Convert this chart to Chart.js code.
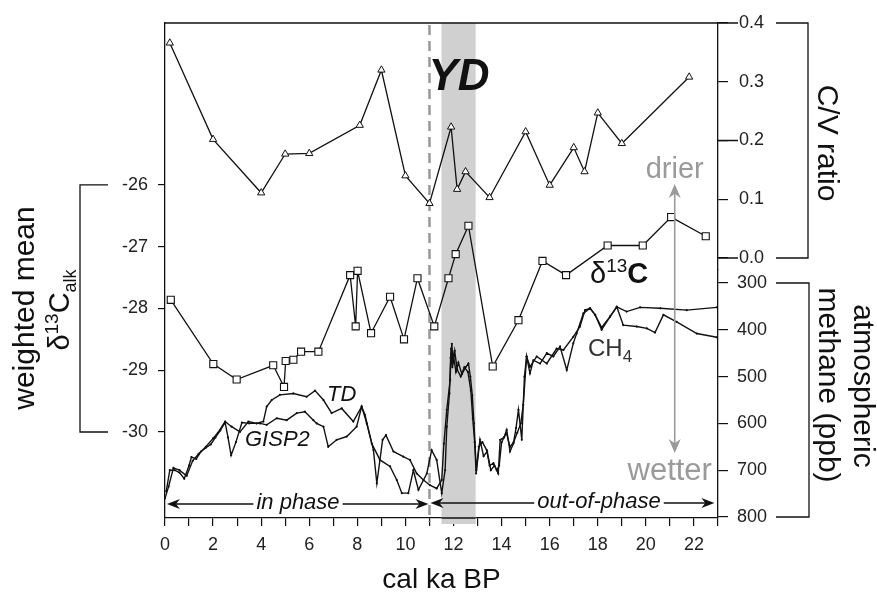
<!DOCTYPE html>
<html>
<head>
<meta charset="utf-8">
<script src="https://cdn.jsdelivr.net/npm/chart.js@4.4.1/dist/chart.umd.min.js"></script>
<style>
	body { margin: 0; background: #fff; }
	canvas { display: block; }
</style>
</head>
<body>
<canvas id="chart" width="877" height="597"></canvas>
<script>
// C/V ratio (triangles)
const cvAge = [0.2, 2.0, 4.0, 5.0, 6.0, 8.1, 9.0, 10.0, 11.0, 11.9, 12.15, 12.5, 13.5, 15.0, 16.0, 17.0, 17.45, 18.0, 19.0, 21.8];
const cvRatio = [0.366, 0.202, 0.111, 0.177, 0.178, 0.226, 0.320, 0.140, 0.093, 0.223, 0.117, 0.147, 0.103, 0.215, 0.124, 0.188, 0.147, 0.247, 0.195, 0.308];

// weighted mean d13C alk (squares)
const d13cAge = [0.24, 2.01, 2.98, 4.5, 4.95, 5.02, 5.34, 5.66, 6.38, 7.7, 7.93, 8.01, 8.57, 9.36, 9.94, 10.5, 11.2, 11.79, 12.09, 12.62, 13.63, 14.7, 15.7, 16.68, 18.41, 19.87, 21.05, 22.49];
const d13c = [-27.86, -28.90, -29.15, -28.92, -29.27, -28.85, -28.83, -28.70, -28.70, -27.46, -28.29, -27.39, -28.40, -27.81, -28.50, -27.51, -28.29, -27.51, -27.12, -26.66, -28.94, -28.19, -27.23, -27.46, -26.98, -26.98, -26.52, -26.83];

// atmospheric methane, GISP2
const gispAge = [0.05, 0.2, 0.4, 0.6, 0.8, 1.0, 1.1, 1.3, 1.5, 1.7, 1.9, 2.1, 2.3, 2.5, 2.62, 2.75, 2.95, 3.2, 3.5, 3.95,
	4.23, 4.65, 5.06, 5.48, 5.82, 6.17, 6.31, 6.59, 6.79, 7.14, 7.56, 7.97, 8.18, 8.39, 8.67, 8.81, 8.94, 9.05, 9.19, 9.5,
	9.91, 10.19, 10.47, 10.75, 11.02, 11.3, 11.51, 11.6, 11.72, 11.86, 11.9, 11.95, 12.0, 12.1, 12.2, 12.35, 12.5, 12.62, 12.7, 12.78,
	12.85, 12.9, 12.95, 13.05, 13.2, 13.38, 13.5, 13.66, 13.8, 13.9, 14.0, 14.2, 14.35, 14.5, 14.65, 14.8, 14.9, 15.04, 15.18, 15.32,
	15.6, 15.88, 16.15, 16.43, 16.71, 16.98, 17.12, 17.4, 17.68, 17.89, 18.16, 18.51, 18.79, 19.06, 19.62, 20.04, 20.38, 20.73, 21.28, 22.12, 22.95];
const gispCh4 = [745, 700, 700, 705, 718, 690, 672, 676, 660, 652, 645, 630, 615, 598, 630, 668, 640, 598, 600, 600,
	603, 589, 593, 578, 575, 593, 600, 607, 650, 635, 628, 607, 564, 600, 657, 728, 678, 635, 625, 660,
	671, 678, 707, 721, 732, 739, 721, 643, 571, 507, 440, 480, 455, 490, 470, 495, 480, 472, 500, 540,
	600, 650, 700, 650, 640, 657, 690, 685, 700, 690, 640, 620, 650, 640, 620, 600, 560, 457, 493, 465,
	472, 450, 457, 436, 486, 429, 408, 365, 354, 368, 400, 372, 351, 390, 393, 397, 406, 368, 383, 408, 416];

// atmospheric methane, TD
const tdAge = [0.0, 0.15, 0.35, 0.6, 0.9, 1.15, 1.4, 1.7, 2.0, 2.2, 2.5, 2.77, 3.12, 3.47, 3.81, 4.09, 4.23, 4.44, 4.78, 5.34,
	5.89, 6.24, 6.59, 6.93, 7.35, 7.83, 8.18, 8.32, 8.6, 8.94, 9.36, 9.64, 9.85, 10.12, 10.33, 10.54, 10.89, 11.09, 11.3, 11.51,
	11.65, 11.72, 11.83, 11.88, 11.93, 11.98, 12.05, 12.15, 12.3, 12.45, 12.6, 12.72, 12.8, 12.88, 12.94, 13.1, 13.25, 13.4, 13.55, 13.7,
	13.86, 13.94, 14.1, 14.21, 14.35, 14.49, 14.6, 14.7, 14.84, 14.95, 15.04, 15.18, 15.46, 15.88, 16.29, 16.57, 16.98, 17.26, 17.47, 17.68,
	17.89, 18.16, 18.51, 18.79, 19.2, 19.76, 20.6, 21.7, 22.95];
const tdCh4 = [760, 735, 695, 700, 712, 680, 665, 650, 632, 620, 596, 607, 618, 596, 600, 596, 564, 550, 539, 536,
	543, 530, 550, 578, 568, 596, 564, 582, 643, 678, 692, 721, 749, 749, 700, 742, 707, 657, 678, 749,
	700, 607, 536, 460, 430, 470, 445, 485, 500, 480, 490, 530, 590, 640, 707, 635, 670, 660, 700, 690,
	707, 635, 630, 614, 660, 643, 610, 571, 635, 500, 457, 479, 457, 472, 440, 443, 415, 393, 358, 354,
	368, 395, 372, 351, 361, 352, 354, 358, 352];

// ticks
const ageTicks = [0, 1, 2, 3, 4, 5, 6, 7, 8, 9, 10, 11, 12, 13, 14, 15, 16, 17, 18, 19, 20, 21, 22, 23];
const d13cTicks = [-26, -27, -28, -29, -30];
const cvTicks = [0, 0.1, 0.2, 0.3, 0.4];
const ch4Ticks = [300, 400, 500, 600, 700, 800];

// Younger Dryas band and phase boundary (ka)
const ydStart = 11.5, ydEnd = 12.92, phaseBreak = 11.0;

const FONT = '"Liberation Sans", Arial, sans-serif';
const ink = '#111';
const grey = '#9a9a9a';

const toXY = (xs, ys) => xs.map((x, i) => ({x: x, y: ys[i]}));
const fixTicks = list => scale => { scale.ticks = list.map(v => ({value: v})); };

function arrowHead(ctx, x, y, dir, len, half) {
	// dir: unit vector the tip points to
	const [dx, dy] = dir;
	ctx.beginPath();
	ctx.moveTo(x, y);
	ctx.lineTo(x - dx * len - dy * half, y - dy * len + dx * half);
	ctx.lineTo(x - dx * len * 0.7, y - dy * len * 0.7);
	ctx.lineTo(x - dx * len + dy * half, y - dy * len - dx * half);
	ctx.closePath();
	ctx.fill();
}

function richText(ctx, parts, x, y, align) {
	let w = 0;
	parts.forEach(p => { ctx.font = p[1]; w += ctx.measureText(p[0]).width; });
	let cx = align === 'center' ? x - w / 2 : x;
	ctx.textAlign = 'left';
	parts.forEach(p => {
		ctx.font = p[1];
		ctx.fillText(p[0], cx, y + (p[2] || 0));
		cx += ctx.measureText(p[0]).width;
	});
}

function phaseArrow(ctx, x0, x1, y, label, lx) {
	ctx.font = 'italic 22px ' + FONT;
	const w = ctx.measureText(label).width;
	ctx.beginPath();
	ctx.moveTo(x0 + 6, y); ctx.lineTo(lx - w / 2 - 3, y);
	ctx.moveTo(lx + w / 2 + 3, y); ctx.lineTo(x1 - 6, y);
	ctx.stroke();
	arrowHead(ctx, x0, y, [-1, 0], 13, 5);
	arrowHead(ctx, x1, y, [1, 0], 13, 5);
	ctx.textAlign = 'center';
	ctx.fillText(label, lx, y + 5);
}

const decor = {
	id: 'decor',
	beforeDatasetsDraw(chart) {
		const {ctx, chartArea: a, scales: {x}} = chart;
		const b0 = x.getPixelForValue(ydStart), b1 = x.getPixelForValue(ydEnd);
		ctx.save();
		ctx.fillStyle = '#d0d0d0';
		ctx.fillRect(b0, a.top, b1 - b0, a.bottom - a.top + 6);
		ctx.strokeStyle = ink;
		ctx.lineWidth = 1.3;
		ctx.beginPath(); ctx.moveTo(b0, a.bottom); ctx.lineTo(b1, a.bottom); ctx.stroke();
		const px = x.getPixelForValue(phaseBreak);
		ctx.strokeStyle = grey;
		ctx.lineWidth = 2.5;
		ctx.setLineDash([10, 6]);
		ctx.beginPath(); ctx.moveTo(px, a.top + 2); ctx.lineTo(px, a.bottom + 4); ctx.stroke();
		ctx.restore();
	},
	afterDraw(chart) {
		const {ctx, chartArea: a, scales: {x, yD, yCV, yM}} = chart;
		ctx.save();
		ctx.strokeStyle = ink;
		ctx.fillStyle = ink;
		ctx.lineWidth = 1.3;
		ctx.textBaseline = 'alphabetic';

		// top frame line and long C/V ticks
		ctx.beginPath();
		ctx.moveTo(a.left, a.top); ctx.lineTo(a.right + 20, a.top);
		[0.2, 0].forEach(v => { const y = yCV.getPixelForValue(v); ctx.moveTo(a.right, y); ctx.lineTo(a.right + 20, y); });
		ctx.stroke();

		// brackets
		const bracket = (y0, y1, xa, xb) => {
			ctx.beginPath();
			ctx.moveTo(xa, y0); ctx.lineTo(xb, y0); ctx.lineTo(xb, y1); ctx.lineTo(xa, y1);
			ctx.stroke();
		};
		bracket(yCV.getPixelForValue(0.4), yCV.getPixelForValue(0), a.right + 58, a.right + 90);
		bracket(yM.getPixelForValue(300), yM.getPixelForValue(800), a.right + 58, a.right + 91);
		bracket(yD.getPixelForValue(-26), yD.getPixelForValue(-30), a.left - 57, a.left - 85);

		// left title
		ctx.save();
		ctx.translate(34, 308);
		ctx.rotate(-Math.PI / 2);
		ctx.font = '30px ' + FONT;
		ctx.textAlign = 'center';
		ctx.fillText('weighted mean', 0, 0);
		ctx.restore();
		ctx.save();
		ctx.translate(69, 310);
		ctx.rotate(-Math.PI / 2);
		richText(ctx, [['δ', '29px ' + FONT], ['13', '19px ' + FONT, -11], ['C', '29px ' + FONT], ['alk', '18px ' + FONT, 7]], 0, 0, 'center');
		ctx.restore();

		// right titles
		const rightTitle = (txt, bx, cy) => {
			ctx.save();
			ctx.translate(bx, cy);
			ctx.rotate(Math.PI / 2);
			ctx.font = '30px ' + FONT;
			ctx.textAlign = 'center';
			ctx.fillText(txt, 0, 0);
			ctx.restore();
		};
		rightTitle('C/V ratio', 818, 143);
		rightTitle('methane (ppb)', 819, 385);
		rightTitle('atmospheric', 854, 386);

		// series labels
		ctx.font = 'italic bold 44px ' + FONT;
		ctx.textAlign = 'center';
		ctx.fillText('YD', 459, 90);
		richText(ctx, [['δ', '29px ' + FONT], ['13', '19px ' + FONT, -11], ['C', 'bold 29px ' + FONT]], 590, 283, 'left');
		ctx.fillStyle = '#333';
		richText(ctx, [['CH', '24px ' + FONT], ['4', '17px ' + FONT, 6]], 588, 356, 'left');
		ctx.fillStyle = ink;
		ctx.font = 'italic 22px ' + FONT;
		ctx.textAlign = 'left';
		ctx.fillText('TD', 327, 401);
		ctx.fillText('GISP2', 245, 446);

		// phase arrows
		ctx.lineWidth = 1.4;
		const pb = x.getPixelForValue(phaseBreak);
		phaseArrow(ctx, x.getPixelForValue(0.08), pb - 1, 504, 'in phase', 298);
		phaseArrow(ctx, pb + 1, x.getPixelForValue(22.85), 503, 'out-of-phase', 599);

		// drier / wetter
		ctx.strokeStyle = grey;
		ctx.fillStyle = grey;
		ctx.lineWidth = 1.6;
		const ax = x.getPixelForValue(21.2);
		ctx.beginPath(); ctx.moveTo(ax, 192); ctx.lineTo(ax, 445); ctx.stroke();
		arrowHead(ctx, ax, 184, [0, -1], 14, 6);
		arrowHead(ctx, ax, 453, [0, 1], 14, 6);
		ctx.font = '29px ' + FONT;
		ctx.textAlign = 'center';
		ctx.fillText('drier', ax, 178);
		ctx.font = '31px ' + FONT;
		ctx.fillText('wetter', ax - 5, 480);
		ctx.restore();
	}
};

const tickFont = {family: FONT, size: 18};
const gridOpts = len => ({drawOnChartArea: false, color: ink, tickLength: len, lineWidth: 1.2});

new Chart(document.getElementById('chart'), {
	type: 'scatter',
	data: {
		datasets: [{
			label: 'CH4 GISP2',
			data: toXY(gispAge, gispCh4),
			yAxisID: 'yM',
			showLine: true,
			borderColor: ink,
			borderWidth: 1.4,
			pointRadius: 1.1,
			pointBackgroundColor: ink,
			pointBorderWidth: 0
		}, {
			label: 'CH4 TD',
			data: toXY(tdAge, tdCh4),
			yAxisID: 'yM',
			showLine: true,
			borderColor: ink,
			borderWidth: 1.4,
			pointRadius: 1.1,
			pointBackgroundColor: ink,
			pointBorderWidth: 0
		}, {
			label: 'd13C',
			data: toXY(d13cAge, d13c),
			yAxisID: 'yD',
			showLine: true,
			borderColor: ink,
			borderWidth: 1.3,
			pointStyle: 'rect',
			pointRadius: 5,
			pointBackgroundColor: '#fff',
			pointBorderColor: ink,
			pointBorderWidth: 1.1
		}, {
			label: 'C/V',
			data: toXY(cvAge, cvRatio),
			yAxisID: 'yCV',
			showLine: true,
			borderColor: ink,
			borderWidth: 1.3,
			pointStyle: 'triangle',
			pointRadius: 4.2,
			pointBackgroundColor: '#fff',
			pointBorderColor: ink,
			pointBorderWidth: 1
		}]
	},
	options: {
		responsive: false,
		animation: false,
		devicePixelRatio: 1,
		layout: {padding: {top: 23, left: 0, right: 0, bottom: 0}},
		plugins: {legend: {display: false}, tooltip: {enabled: false}},
		scales: {
			x: {
				type: 'linear', min: 0, max: 23,
				border: {color: ink, width: 1.3},
				grid: gridOpts(8),
				afterBuildTicks: fixTicks(ageTicks),
				ticks: {autoSkip: false, maxRotation: 0, padding: 8, color: '#222', font: tickFont,
					callback: v => (v % 2 === 0 ? String(v) : '')},
				title: {display: true, text: 'cal ka BP', color: ink, font: {family: FONT, size: 28}, padding: 0},
				afterFit: s => { s.height = 79; }
			},
			yD: {
				type: 'linear', position: 'left', min: -31.393, max: -23.377,
				border: {color: ink, width: 1.3},
				grid: gridOpts(7),
				afterBuildTicks: fixTicks(d13cTicks),
				ticks: {padding: 10, color: '#222', font: tickFont},
				afterFit: s => { s.width = 165; }
			},
			yCV: {
				type: 'linear', position: 'right', stack: 'right', stackWeight: 247,
				min: -0.0204, max: 0.4,
				border: {color: ink, width: 1.3},
				grid: gridOpts(10),
				afterBuildTicks: fixTicks(cvTicks),
				ticks: {padding: 11, color: '#222', font: tickFont, callback: v => v.toFixed(1)},
				afterFit: s => { s.width = 159; }
			},
			yM: {
				type: 'linear', position: 'right', stack: 'right', stackWeight: 248,
				reverse: true, min: 272.2, max: 802.1,
				border: {color: ink, width: 1.3},
				grid: gridOpts(10),
				afterBuildTicks: fixTicks(ch4Ticks),
				ticks: {padding: 9, color: '#222', font: tickFont},
				afterFit: s => { s.width = 159; }
			}
		}
	},
	plugins: [decor]
});
</script>
</body>
</html>
